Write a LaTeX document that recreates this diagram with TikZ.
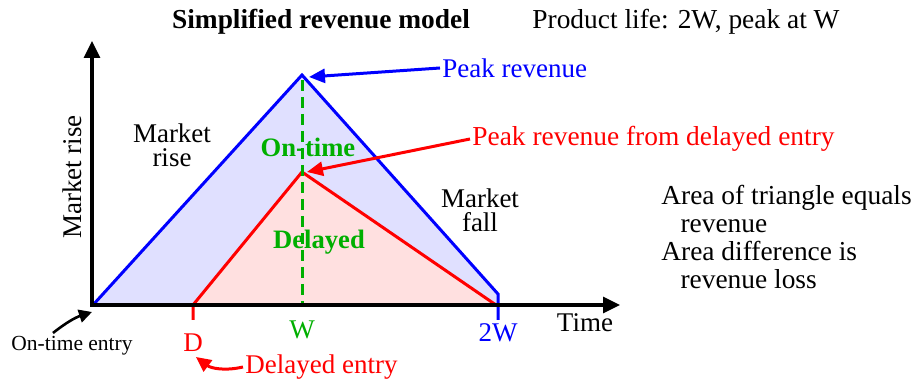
\documentclass[tikz,border=0pt]{standalone}
\usepackage{fontspec}
\setmainfont{Liberation Serif}
\usetikzlibrary{arrows.meta}
\definecolor{ontime}{RGB}{0,175,0}

\begin{document}
\begin{tikzpicture}[
        x=0.5pt, y=-0.5pt,
        every node/.style={inner sep=1pt, font=\fontsize{13.5}{12}\selectfont},
        boldn/.style={font=\fontsize{13.3}{12}\selectfont\bfseries},
        axis/.style={line width=1.6pt, {Triangle[length=8.5pt,width=8pt]}-{Triangle[length=8.5pt,width=8pt]}},
        curve/.style={line width=1.5pt},
        note/.style={line width=1.5pt, -{Triangle[length=8pt,width=7pt]}},
    ]
    \useasboundingbox (0,0) rectangle (917,383);
    \coordinate (O) at (92,305);
    \coordinate (ytop) at (92,41);
    \coordinate (xend) at (620,305);
    \coordinate (start) at (93,305);
    \coordinate (peak) at (302,75);
    \coordinate (bend) at (498,294);
    \coordinate (twoW) at (498,305);
    \coordinate (twoWt) at (498,320);
    \coordinate (D) at (193,305);
    \coordinate (Dt) at (193,320);
    \coordinate (dpeak) at (302,172);
    \coordinate (dend) at (496,305);
    \coordinate (Wtop) at (302,80);
    \coordinate (W) at (302,305);
    \coordinate (peaktip) at (309,77);
    \coordinate (dpeaktip) at (307,172);
    \coordinate (ottail) at (53,333);
    \coordinate (ottip) at (92,312);
    \coordinate (dtip) at (196,357);

    \fill[blue!12] (start) -- (peak) -- (bend) -- (twoW) -- cycle;
    \fill[red!12] (D) -- (dpeak) -- (dend) -- cycle;

    \node[boldn, font=\fontsize{13.7}{12}\selectfont\bfseries] (title) at (321,22) {Simplified revenue model};
    \node[font=\fontsize{13.7}{12}\selectfont] (life) at (686,22) {Product life: 2W, peak at W};
    \node[rotate=90] (ylab) at (72,177) {Market rise};
    \node[align=center] (rise) at (172,145) {Market\\rise};
    \node[align=center] (fall) at (480,210) {Market\\fall};
    \node (xlab) at (585,323) {Time};
    \node[boldn, ontime] (ontimelab) at (308,147) {On-time};
    \node[boldn, ontime] (delayedlab) at (319,242) {Delayed};

    \draw[curve, blue] (start) -- (peak) -- (bend) -- (twoWt);
    \draw[curve, red] (Dt) -- (D) -- (dpeak) -- (dend);
    \draw[curve, ontime, dash pattern=on 5.5pt off 3pt] (Wtop) -- (W);
    \draw[axis] (ytop) -- (O) -- (xend);

    \node[red] (dlab) at (193,343) {D};
    \node[ontime] (wlab) at (302,330) {W};
    \node[blue] (wwlab) at (498,333) {2W};

    \node[blue, anchor=west] (peaklab) at (440,68) {Peak revenue};
    \draw[note, blue] (peaklab.west) -- (peaktip);
    \node[red, font=\fontsize{13.7}{12}\selectfont, anchor=west] (dpeaklab) at (470,139) {Peak revenue from delayed entry};
    \draw[note, red] (dpeaklab.west) -- (dpeaktip);

    \node[font=\fontsize{10.75}{12}\selectfont] (otentry) at (72,346) {On-time entry};
    \draw[line width=1.3pt, -{Triangle[length=6.5pt,width=6.5pt]}] (ottail) to[bend left=10] (ottip);
    \node[red, anchor=west] (dentry) at (243,367) {Delayed entry};
    \draw[note, red, -{Triangle[length=7.5pt,width=7pt]}] (dentry.west) to[bend left=25] (dtip);

    \node[align=left, anchor=north west, inner sep=0pt, font=\fontsize{13.7}{14}\selectfont] (areas) at (661,185)
        {Area of triangle equals\\\hspace*{0.7em}revenue\\Area difference is\\\hspace*{0.7em}revenue loss};
\end{tikzpicture}
\end{document}
